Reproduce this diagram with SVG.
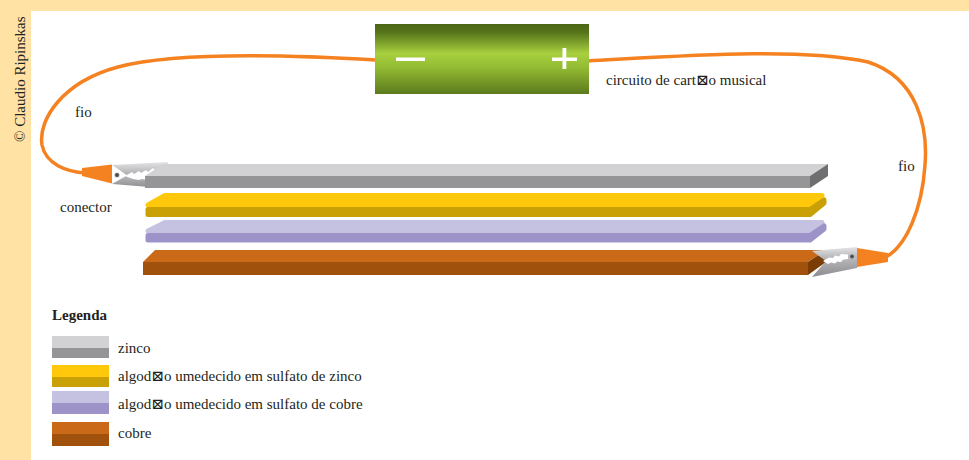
<svg xmlns="http://www.w3.org/2000/svg" width="969" height="460" viewBox="0 0 969 460">
  <defs>
    <linearGradient id="battGrad" x1="0" y1="0" x2="0" y2="1">
      <stop offset="0" stop-color="#4b6615"/>
      <stop offset="0.12" stop-color="#56741a"/>
      <stop offset="0.42" stop-color="#a8d03e"/>
      <stop offset="0.62" stop-color="#93bb33"/>
      <stop offset="1" stop-color="#5c7a1d"/>
    </linearGradient>
    <linearGradient id="clipUpper" x1="0" y1="0" x2="0" y2="1">
      <stop offset="0" stop-color="#e4e4e6"/>
      <stop offset="1" stop-color="#a9a9ac"/>
    </linearGradient>
    <linearGradient id="clipLower" x1="0" y1="0" x2="0" y2="1">
      <stop offset="0" stop-color="#b8b8bb"/>
      <stop offset="1" stop-color="#8c8c90"/>
    </linearGradient>
    <radialGradient id="rivet">
      <stop offset="0" stop-color="#333"/>
      <stop offset="0.6" stop-color="#666"/>
      <stop offset="1" stop-color="#bbb"/>
    </radialGradient>
  </defs>
  <style>
    .lbl { font-family: "Liberation Serif", "DejaVu Serif", serif; font-size: 15px; fill: #231f20; }
    .wire { fill: none; stroke: #f58220; stroke-width: 3.5; stroke-linecap: round; }
    .plug { fill: #f58220; }
    .teeth { fill: #ffffff; }
    .zn-top { fill: #d2d2d4; } .zn-front { fill: #959598; } .zn-side { fill: #6f6f71; }
    .ye-top { fill: #ffc80a; stroke: #ffc80a; stroke-width: 5; stroke-linejoin: round; }
    .ye-front { fill: #c9a005; stroke: #c9a005; stroke-width: 5; stroke-linejoin: round; }
    .pu-top { fill: #c5c1e1; stroke: #c5c1e1; stroke-width: 5; stroke-linejoin: round; }
    .pu-front { fill: #9d93c9; stroke: #9d93c9; stroke-width: 5; stroke-linejoin: round; }
    .cu-top { fill: #ca6a19; } .cu-front { fill: #a0520c; } .cu-side { fill: #7b3d06; }
  </style>

  <!-- page frame -->
  <rect x="0" y="0" width="969" height="460" fill="#ffe2a4"/>
  <rect x="31" y="11" width="938" height="449" fill="#ffffff"/>
  <text class="lbl" transform="translate(25,142) rotate(-90)" font-size="14">© Claudio Ripinskas</text>

  <!-- connectors: the two wires -->
  <g id="wires">
    <path class="wire" d="M376,60 C290,55 175,52 118,67 C62,82 38,120 42,145 C46,164 66,172 86,173"/>
    <path class="wire" d="M588,61 C680,56 800,47 868,62 C918,78 928,128 925,165 C922,210 906,246 886,257"/>
  </g>

  <!-- battery / musical card circuit -->
  <g id="battery">
    <rect x="375" y="24" width="214" height="70" fill="url(#battGrad)"/>
    <rect x="396" y="57.5" width="29" height="3.5" fill="#ffffff"/>
    <rect x="552" y="57.5" width="25" height="3.5" fill="#ffffff"/>
    <rect x="562.5" y="48" width="3.8" height="21" fill="#ffffff"/>
  </g>

  <!-- left crocodile clip -->
  <g id="clip-left">
    <polygon points="112,165 168,162 168,168 128,176" fill="url(#clipUpper)"/>
    <polygon points="126,176 162,176 162,188 112,184" fill="url(#clipLower)"/>
    <polygon class="teeth" points="125,176 132,172 134,174 139,171 141,173 146,170 148,172 153,168 155,170 163,167 163,177 157,177 155,179 150,178 147,180 142,179 139,180 133,179"/>
    <circle cx="117" cy="175" r="2.6" fill="url(#rivet)"/>
    <polygon class="plug" points="82,168 112,164.5 112,183.5 82,176"/>
  </g>

  <!-- zinc plate -->
  <g id="zinco">
    <polygon class="zn-top" points="163,164 828,164 810,176 145,176"/>
    <rect class="zn-front" x="145" y="176" width="665" height="12"/>
    <polygon class="zn-side" points="810,176 828,164 828,176 810,188"/>
  </g>

  <!-- cotton soaked in zinc sulfate -->
  <g id="algodao-zinco">
    <polygon class="ye-top" points="165,195.5 822,195.5 810,205 148,205"/>
    <polygon class="ye-front" points="148,209.5 810,209.5 824,200 824,203 810,214.5 148,214.5"/>
  </g>

  <!-- cotton soaked in copper sulfate -->
  <g id="algodao-cobre">
    <polygon class="pu-top" points="165,222.5 822,222.5 810,231 148,231"/>
    <polygon class="pu-front" points="148,235.5 810,235.5 824,226 824,229 810,240 148,240"/>
  </g>

  <!-- copper plate -->
  <g id="cobre">
    <polygon class="cu-top" points="155,250 826,250 808,262 143,262"/>
    <rect class="cu-front" x="143" y="262" width="665" height="13"/>
    <polygon class="cu-side" points="808,262 826,250 826,262 808,275"/>
  </g>

  <!-- right crocodile clip -->
  <g id="clip-right">
    <polygon points="812,251 857,247 857,258 826,261" fill="url(#clipUpper)"/>
    <polygon points="826,261 857,258 857,268 812,277" fill="url(#clipLower)"/>
    <polygon class="teeth" points="848,254.5 841,254 839,256.5 835,255.5 833,258 829,257.5 823,261 828,264 831,262.5 835,263.5 837,261.5 841,262 843,259.5 848,259"/>
    <circle cx="852" cy="256.5" r="2.6" fill="url(#rivet)"/>
    <polygon class="plug" points="857,248 888,253 888,262 857,267"/>
  </g>

  <!-- labels -->
  <g id="labels">
    <text class="lbl" x="75" y="117">fio</text>
    <text class="lbl" x="898" y="171">fio</text>
    <text class="lbl" x="60" y="212">conector</text>
    <text class="lbl" x="606" y="85">circuito de cart⊠o musical</text>
  </g>

  <!-- legend -->
  <g id="legenda">
    <text class="lbl" x="52" y="320" font-weight="bold">Legenda</text>
    <g id="leg-zinco">
      <rect x="52" y="336" width="57" height="12" fill="#d2d2d4"/>
      <rect x="52" y="348" width="57" height="10" fill="#959598"/>
      <text class="lbl" x="118" y="353">zinco</text>
    </g>
    <g id="leg-algodao-zinco">
      <rect x="52" y="365" width="57" height="12" fill="#ffc80a"/>
      <rect x="52" y="377" width="57" height="10" fill="#c9a005"/>
      <text class="lbl" x="118" y="381">algod⊠o umedecido em sulfato de zinco</text>
    </g>
    <g id="leg-algodao-cobre">
      <rect x="52" y="391" width="57" height="12" fill="#c5c1e1"/>
      <rect x="52" y="403" width="57" height="11" fill="#9d93c9"/>
      <text class="lbl" x="118" y="409">algod⊠o umedecido em sulfato de cobre</text>
    </g>
    <g id="leg-cobre">
      <rect x="52" y="422" width="57" height="12" fill="#ca6a19"/>
      <rect x="52" y="434" width="57" height="12" fill="#a0520c"/>
      <text class="lbl" x="118" y="438">cobre</text>
    </g>
  </g>
</svg>
